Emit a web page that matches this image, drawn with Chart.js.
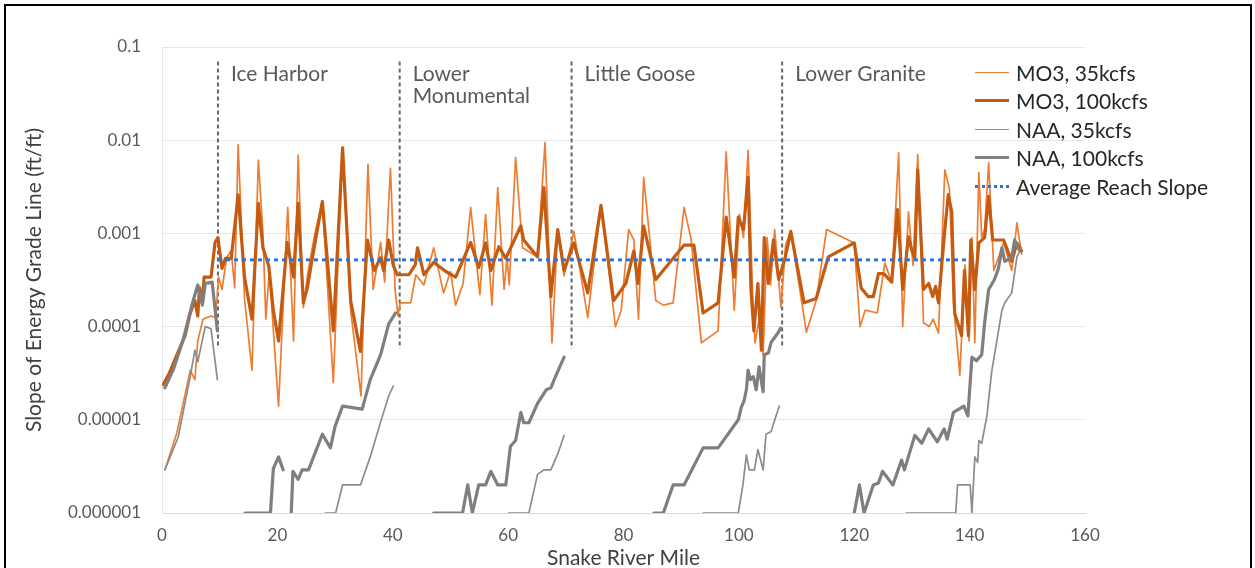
<!DOCTYPE html>
<html>
<head>
<meta charset="utf-8">
<script src="https://cdn.jsdelivr.net/npm/chart.js@4.4.1/dist/chart.umd.min.js"></script>
<style>
  body { margin: 0; background: #fff; }
  #wrap { position: relative; width: 1255px; height: 568px; overflow: hidden; }
  #frame { position: absolute; left: 4px; top: 4px; width: 1244px; height: 620px; border: 2px solid #000; pointer-events: none; }
  #chart { position: absolute; left: 0; top: 0; }
  #legend { position: absolute; left: 975px; top: 58px; font-family: Lato, "Open Sans", sans-serif; font-size: 21px; color: #262626; }
  .item { height: 28.5px; display: flex; align-items: center; white-space: nowrap; }
  .swatch { width: 34px; margin-right: 7px; }
</style>
</head>
<body>
<div id="wrap">
  <canvas id="chart" width="1255" height="568"></canvas>
  <div id="legend"></div>
  <div id="frame"></div>
</div>
<script>
// river mile, slope (ft/ft); null = break in the line
const mo3_35 = [
  [0.5, 2.9e-6], [2.6, 7.3e-6], [4.9, 3.4e-5], [5.7, 2.7e-5], [6.2, 7e-5], [7.1, 1.2e-4], [8.5, 1.3e-4], [9.3, 1.25e-4],
  [9.8, 3.4e-4], [10.4, 2.5e-4], [11.2, 5.5e-4], [12.0, 6.5e-4], [12.6, 2.6e-4], [13.2, 8.9e-3], [14.3, 2e-4], [15.6, 3.4e-5],
  [16.7, 6.1e-3], [17.5, 1e-3], [18.0, 1.2e-4], [18.6, 4e-4], [20.2, 1.4e-5], [21.8, 1.9e-3], [22.8, 7e-5], [23.6, 6.9e-3],
  [24.5, 1.6e-4], [25.2, 3.5e-4], [26.5, 1e-3], [27.8, 2.2e-3], [29.7, 2.5e-5], [31.3, 8.5e-3], [32.7, 1.5e-4], [34.5, 1.8e-5],
  [35.7, 5.5e-3], [36.6, 2.5e-4], [37.5, 5.5e-4], [37.9, 8e-4], [38.6, 3e-4], [39.6, 5e-3], [40.4, 2.5e-4], [40.9, 1.3e-4],
  [41.3, 1.8e-4], [43.1, 1.8e-4], [44.0, 3.6e-4], [45.4, 2.8e-4], [47.1, 7e-4], [48.8, 2.3e-4], [50.0, 3.9e-4], [50.9, 1.7e-4],
  [52.2, 2.9e-4], [53.5, 1.9e-3], [55.1, 2.2e-4], [56.1, 1.6e-3], [57.2, 1.7e-4], [58.2, 3.1e-3], [59.3, 2.5e-4], [59.8, 5.5e-4],
  [60.2, 2.8e-4], [61.3, 6.5e-3], [62.5, 7e-4], [65.1, 5.6e-4], [66.4, 9.5e-3], [67.6, 6.7e-5], [68.6, 1.05e-3], [69.7, 3.5e-4],
  [71.4, 1.05e-3], [73.8, 1.25e-4], [76.1, 2e-3], [78.6, 1e-4], [79.6, 1.5e-4], [80.9, 1.1e-3], [81.8, 8.5e-4], [82.6, 1.2e-4],
  [83.5, 4e-3], [85.6, 1.9e-4], [86.9, 1.7e-4], [88.6, 1.8e-4], [90.5, 1.9e-3], [91.7, 8.8e-4], [93.5, 6.7e-5], [96.4, 9e-5],
  [97.8, 7.5e-3], [99.2, 1.5e-4], [100.1, 1.6e-3], [100.8, 9e-4], [101.6, 7.8e-3], [102.4, 2e-4], [102.8, 6.7e-5], [103.5, 1.2e-4],
  [104.2, 5e-5], [104.9, 9e-4], [105.5, 2.8e-4], [106.2, 1.1e-3], [107.3, 1.6e-4], [108.1, 7.5e-4], [109.0, 1.05e-3], [111.7, 8.7e-5],
  [113.4, 1.9e-4], [115.2, 1.1e-3], [120.0, 7.9e-4], [121.0, 1e-4], [121.9, 1.5e-4], [124.0, 1.4e-4], [125.3, 4.8e-4], [126.5, 3e-4],
  [127.7, 7.3e-3], [128.4, 1e-4], [129.4, 1.7e-3], [130.2, 4.5e-4], [131.0, 7e-3], [132.0, 1.1e-4], [133.0, 1e-4], [133.7, 1.2e-4],
  [134.6, 8.5e-5], [135.7, 4.8e-3], [136.5, 3e-3], [137.2, 1.8e-4], [138.3, 3e-5], [139.2, 4.6e-4], [139.9, 7e-5], [140.4, 9e-4],
  [140.9, 6.7e-5], [141.6, 4.5e-3], [142.1, 9e-4], [142.6, 1.1e-3], [143.3, 5.7e-3], [144.2, 4e-4], [145.9, 8e-4], [147.3, 4e-4],
  [148.2, 1.3e-3], [149.0, 6e-4]
];

const mo3_100 = [
  [0.2, 2.4e-5], [1.3, 3.2e-5], [2.6, 5e-5], [4.0, 8e-5], [4.9, 1.4e-4], [5.7, 1.9e-4], [6.2, 1.3e-4], [6.5, 2.6e-4],
  [7.0, 1.8e-4], [7.3, 3.4e-4], [8.5, 3.4e-4], [9.2, 8e-4], [9.7, 9e-4], [10.4, 4.2e-4], [11.0, 5.4e-4], [12.0, 5.4e-4],
  [13.2, 2.6e-3], [14.3, 3.4e-4], [15.6, 1.2e-4], [16.7, 2.1e-3], [17.5, 7e-4], [18.5, 4.5e-4], [19.3, 1.5e-4], [20.2, 7e-5],
  [21.7, 8e-4], [22.8, 3.4e-4], [23.6, 2.1e-3], [24.5, 1.8e-4], [25.2, 2.6e-4], [26.0, 5.2e-4], [27.8, 2.2e-3], [29.7, 9e-5],
  [31.3, 8.3e-3], [32.7, 1.9e-4], [34.4, 5.4e-5], [35.6, 8.5e-4], [36.8, 4e-4], [37.9, 5.5e-4], [38.4, 4e-4], [39.3, 8.5e-4],
  [40.1, 4.5e-4], [40.8, 3.6e-4], [42.8, 3.6e-4], [43.9, 4.6e-4], [44.3, 7e-4], [45.4, 3.6e-4], [47.1, 4.9e-4], [49.2, 3.9e-4],
  [50.9, 3.4e-4], [53.5, 8e-4], [54.9, 4.3e-4], [56.1, 7.9e-4], [57.0, 4e-4], [58.4, 7.2e-4], [59.6, 5.4e-4], [62.2, 1.2e-3],
  [62.7, 8.5e-4], [65.1, 5.6e-4], [66.2, 3.1e-3], [67.4, 2.1e-4], [68.6, 1.1e-3], [69.7, 4e-4], [71.4, 7.9e-4], [73.8, 2.3e-4],
  [76.1, 2e-3], [78.3, 1.9e-4], [80.4, 2.9e-4], [81.8, 6.5e-4], [82.5, 2.9e-4], [83.5, 1.2e-3], [85.6, 3.2e-4], [90.5, 7.5e-4],
  [92.2, 7.5e-4], [93.8, 1.4e-4], [96.4, 1.8e-4], [97.8, 1.5e-3], [99.2, 3.4e-4], [99.9, 1.5e-3], [100.8, 1.1e-3], [101.6, 4e-3],
  [102.1, 2.5e-4], [102.6, 9e-5], [103.3, 2.9e-4], [103.9, 5.6e-5], [104.4, 9e-4], [105.1, 2.9e-4], [106.0, 8.5e-4], [106.9, 3.2e-4],
  [108.0, 5.4e-4], [109.0, 1.05e-3], [111.3, 1.8e-4], [113.4, 2e-4], [115.5, 5.6e-4], [120.0, 7.9e-4], [121.2, 2.6e-4], [122.4, 2.1e-4],
  [123.3, 2.1e-4], [124.2, 3.7e-4], [125.1, 3.7e-4], [126.5, 3e-4], [127.5, 1.8e-3], [128.4, 2.5e-4], [129.4, 9.2e-4], [130.0, 6.5e-4],
  [130.5, 5.5e-4], [131.0, 4.8e-3], [132.0, 2.5e-4], [132.9, 2.9e-4], [133.6, 2.1e-4], [134.1, 2.7e-4], [134.6, 1.8e-4], [135.7, 1.1e-3],
  [136.3, 2.6e-3], [136.9, 1.7e-3], [137.4, 1.4e-4], [138.6, 8e-5], [139.1, 4e-4], [139.8, 8e-5], [140.2, 8.5e-4], [140.9, 2.5e-4],
  [141.6, 7.9e-4], [142.6, 9e-4], [143.3, 2.5e-3], [144.0, 8.5e-4], [145.9, 8.5e-4], [147.3, 5e-4], [148.2, 7.9e-4], [149.0, 6.5e-4]
];

const naa_35 = [
  [0.5, 2.9e-6], [2.8, 6.5e-6], [4.9, 2.9e-5], [5.7, 5.6e-5], [6.2, 4.2e-5], [7.5, 1.0e-4], [8.5, 9.5e-5], [9.6, 2.7e-5], [9.7, null],
  [28.3, 1e-6], [30.1, 1e-6], [31.3, 2e-6], [34.4, 2e-6], [36.1, 4e-6], [37.9, 9.5e-6], [39.3, 1.8e-5], [40.1, 2.3e-5], [40.2, null],
  [60.1, 1e-6], [63.6, 1e-6], [65.1, 2.6e-6], [66.2, 2.9e-6], [67.4, 2.9e-6], [68.6, 4.3e-6], [69.7, 6.8e-6], [69.8, null],
  [93.8, 1e-6], [99.9, 1e-6], [100.7, 2e-6], [101.3, 4.2e-6], [101.8, 2.9e-6], [102.7, 2.9e-6], [103.3, 4.8e-6], [104.2, 2.9e-6],
  [104.7, 7e-6], [105.6, 7.5e-6], [106.1, 9.5e-6], [107.0, 1.4e-5], [107.1, null],
  [129.0, 1e-6], [137.6, 1e-6], [137.9, 2e-6], [140.1, 2e-6], [140.4, 1e-6], [140.9, 4e-6], [141.4, 3.5e-6], [141.6, 6e-6],
  [142.1, 5.6e-6], [143.0, 1.1e-5], [143.8, 3.2e-5], [145.6, 1.5e-4], [146.1, 1.8e-4], [147.3, 2.3e-4], [148.2, 5.6e-4], [149.0, 7e-4]
];

const naa_100 = [
  [0.5, 2.2e-5], [2.0, 3.5e-5], [3.6, 7e-5], [5.4, 1.9e-4], [6.2, 2.8e-4], [7.0, 1.7e-4], [7.5, 2.9e-4], [8.7, 3.0e-4], [9.6, 9e-5], [9.7, null],
  [14.4, 1e-6], [18.8, 1e-6], [19.3, 3e-6], [20.2, 4e-6], [21.0, 2.9e-6], [21.1, null],
  [22.4, 1e-6], [22.7, 2.8e-6], [23.6, 2.3e-6], [24.3, 2.9e-6], [25.4, 2.9e-6], [27.8, 7e-6], [29.2, 5e-6], [30.0, 8.5e-6],
  [31.3, 1.4e-5], [34.7, 1.3e-5], [36.1, 2.7e-5], [37.9, 5e-5], [39.3, 1.07e-4], [40.5, 1.4e-4], [40.6, null],
  [47.1, 1e-6], [52.1, 1e-6], [53.0, 2e-6], [53.8, 1e-6], [54.9, 2e-6], [56.1, 2e-6], [57.0, 2.8e-6], [58.2, 2e-6], [59.6, 2e-6],
  [60.4, 5.2e-6], [61.3, 6e-6], [62.2, 1.2e-5], [62.7, 9.3e-6], [63.6, 9.3e-6], [65.1, 1.5e-5], [66.6, 2.1e-5], [67.4, 2.2e-5],
  [68.3, 3e-5], [69.7, 4.7e-5], [69.8, null],
  [85.3, 1e-6], [86.9, 1e-6], [88.6, 2e-6], [90.5, 2e-6], [93.8, 5e-6], [96.4, 5e-6], [99.9, 1e-5], [100.4, 1.35e-5],
  [100.9, 1.6e-5], [101.3, 2.1e-5], [101.6, 3.4e-5], [102.0, 2.7e-5], [102.5, 2.9e-5], [103.0, 2.1e-5], [103.5, 3.7e-5],
  [104.2, 2e-5], [104.4, 5e-5], [105.1, 5.2e-5], [105.6, 6.8e-5], [106.1, 7.5e-5], [106.8, 8.6e-5], [107.2, 9.6e-5], [107.3, null],
  [120.0, 1e-6], [120.9, 2e-6], [121.7, 1e-6], [123.3, 2e-6], [124.2, 2.1e-6], [124.9, 2.8e-6], [126.7, 2e-6], [128.2, 3.7e-6],
  [128.7, 2.9e-6], [130.5, 6.8e-6], [131.7, 5.6e-6], [132.9, 8e-6], [134.4, 5.8e-6], [135.6, 8e-6], [136.1, 6.2e-6],
  [137.2, 1.2e-5], [139.0, 1.4e-5], [139.7, 1.1e-5], [140.4, 4.7e-5], [141.2, 4.3e-5], [142.1, 5e-5], [142.6, 1.1e-4],
  [143.3, 2.5e-4], [144.3, 3.2e-4], [145.0, 4.2e-4], [145.6, 7e-4], [146.1, 5e-4], [147.3, 5.5e-4], [147.8, 8.5e-4], [148.7, 6.5e-4]
];

const avgReach = [[9.7, 5.2e-4], [140.0, 5.2e-4]];

const dams = ['Ice Harbor', 'Lower Monumental', 'Little Goose', 'Lower Granite'];
const damMiles = [9.7, 41.2, 71.0, 107.5];
const damLabelLines = [['Ice Harbor'], ['Lower', 'Monumental'], ['Little Goose'], ['Lower Granite']];
const damLineTop = 0.07;
const damLineBottom = 5.8e-5;

const yTicks = [1e-6, 1e-5, 1e-4, 1e-3, 1e-2, 1e-1];
const yTickLabels = ['0.000001', '0.00001', '0.0001', '0.001', '0.01', '0.1'];

const seriesNames = ['MO3, 35kcfs', 'MO3, 100kcfs', 'NAA, 35kcfs', 'NAA, 100kcfs', 'Average Reach Slope'];

const FONT = 'Lato, "Open Sans", sans-serif';
const toPts = arr => arr.map(p => ({ x: p[0], y: p[1] }));

function line(label, data, color, width, order, extra) {
  return Object.assign({
    label: label,
    data: toPts(data),
    borderColor: color,
    backgroundColor: color,
    borderWidth: width,
    pointRadius: 0,
    tension: 0,
    spanGaps: false,
    borderJoinStyle: 'round',
    borderCapStyle: 'round',
    order: order
  }, extra || {});
}

const datasets = [
  line(seriesNames[0], mo3_35, '#ED7D31', 1.7, 6),
  line(seriesNames[1], mo3_100, '#C55A11', 3.2, 5),
  line(seriesNames[2], naa_35, '#8C8C8C', 1.7, 4),
  line(seriesNames[3], naa_100, '#7F7F7F', 3.2, 3),
  line(seriesNames[4], avgReach, '#2E75D0', 3, 2, { borderDash: [4, 4], borderCapStyle: 'butt' })
];
damMiles.forEach((m, i) => {
  datasets.push(line(dams[i], [[m, damLineTop], [m, damLineBottom]], '#666666', 2, 7,
    { borderDash: [4, 3], borderCapStyle: 'butt' }));
});

// text labels beside each dam line
const damLabels = {
  id: 'damLabels',
  afterDatasetsDraw(chart) {
    const ctx = chart.ctx;
    const xs = chart.scales.x, ys = chart.scales.y;
    ctx.save();
    ctx.font = '21px ' + FONT;
    ctx.fillStyle = '#595959';
    ctx.textBaseline = 'middle';
    damMiles.forEach((m, i) => {
      const px = xs.getPixelForValue(m) + 13;
      damLabelLines[i].forEach((t, j) => {
        ctx.fillText(t, px, ys.top + 27 + j * 22);
      });
    });
    ctx.restore();
  }
};

new Chart(document.getElementById('chart'), {
  type: 'line',
  data: { datasets: datasets },
  plugins: [damLabels],
  options: {
    responsive: false,
    animation: false,
    layout: { padding: { left: 18, right: 170, top: 47, bottom: 0 } },
    plugins: { legend: { display: false }, tooltip: { enabled: false } },
    scales: {
      x: {
        type: 'linear',
        min: 0, max: 160,
        ticks: { stepSize: 20, color: '#595959', font: { family: FONT, size: 17 }, padding: 12, maxRotation: 0 },
        grid: { display: false, drawTicks: false },
        border: { display: true, color: '#D9D9D9', width: 1 },
        title: { display: true, text: 'Snake River Mile', color: '#404040', font: { family: FONT, size: 21 }, padding: { top: 0, bottom: -3 } },
        afterFit(scale) { scale.height = 55; }
      },
      y: {
        type: 'logarithmic',
        min: 1e-6, max: 0.1,
        afterBuildTicks(scale) { scale.ticks = yTicks.map(v => ({ value: v })); },
        ticks: {
          color: '#595959', font: { family: FONT, size: 17 }, padding: 21,
          callback: (v) => yTickLabels[yTicks.indexOf(v)] ?? ''
        },
        grid: { color: '#E6E6E6', lineWidth: 1, drawTicks: false },
        border: { display: true, color: '#E6E6E6' },
        title: { display: true, text: 'Slope of Energy Grade Line (ft/ft)', color: '#404040', font: { family: FONT, size: 21 }, padding: { top: 4, bottom: 0 } },
        afterFit(scale) { scale.width = 144; }
      }
    }
  }
});

// legend (html, overlapping the plot at top right like the original)
const legendStyles = [
  'border-top:1.7px solid #ED7D31',
  'border-top:3.2px solid #C55A11',
  'border-top:1.7px solid #8C8C8C',
  'border-top:3.2px solid #7F7F7F',
  'border-top:3px dotted #2E75D0'
];
const legend = document.getElementById('legend');
seriesNames.forEach((name, i) => {
  const row = document.createElement('div');
  row.className = 'item';
  row.innerHTML = `<span class="swatch" style="${legendStyles[i]}"></span><span>${name}</span>`;
  legend.appendChild(row);
});
</script>
</body>
</html>
